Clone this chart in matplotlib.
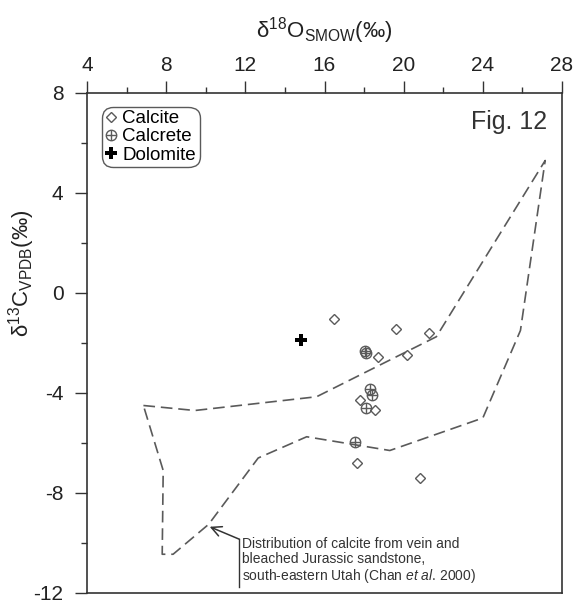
import matplotlib
matplotlib.use("Agg")

import matplotlib.pyplot as plt

# -------------------------------------------------------------
# Data
# -------------------------------------------------------------
calcite_x = [16.5, 19.6, 21.3, 18.7, 20.15, 17.8, 18.55, 17.65, 20.8]
calcite_y = [-1.05, -1.45, -1.6, -2.55, -2.5, -4.3, -4.7, -6.8, -7.4]

calcrete_x = [18.05, 18.1, 18.3, 18.4, 18.1, 17.55]
calcrete_y = [-2.33, -2.4, -3.85, -4.1, -4.6, -5.95]

dolomite_x = [14.8]
dolomite_y = [-1.9]

# envelope of Chan et al. (2000)
chan_x = [6.85, 9.45, 15.6, 21.65, 27.15, 25.9, 24.0, 19.3, 15.1, 12.65, 10.15, 8.35, 7.8, 7.85, 6.85]
chan_y = [-4.5, -4.7, -4.15, -1.75, 5.3, -1.5, -5.0, -6.3, -5.75, -6.6, -9.25, -10.45, -10.45, -7.1, -4.5]

x_ticks = [4, 8, 12, 16, 20, 24, 28]
y_ticks = [-12, -8, -4, 0, 4, 8]

GRAY = "#5a5a5a"
DARK = "#333333"

plt.rcParams["font.family"] = ["Liberation Sans", "DejaVu Sans"]
plt.rcParams["mathtext.fontset"] = "custom"
plt.rcParams["mathtext.rm"] = "Liberation Sans"
plt.rcParams["mathtext.it"] = "Liberation Sans:italic"
plt.rcParams["axes.unicode_minus"] = False

fig = plt.figure(figsize=(5.78, 6.05), dpi=100)
ax = fig.add_axes([87 / 578, 12 / 605, 475 / 578, 500 / 605])

ax.plot(chan_x, chan_y, color=GRAY, lw=1.2, dashes=(7, 3.5))

h_cal, = ax.plot(calcite_x, calcite_y, ls="none", marker="D", ms=5.5,
                 mfc="white", mec=GRAY, mew=1.0)
h_crc1, = ax.plot(calcrete_x, calcrete_y, ls="none", marker="o", ms=7.5,
                  mfc="none", mec=GRAY, mew=1.0)
h_crc2, = ax.plot(calcrete_x, calcrete_y, ls="none", marker="+", ms=7.5,
                  mec=GRAY, mew=1.0)
h_dol, = ax.plot(dolomite_x, dolomite_y, ls="none", marker="P", ms=9,
                 mfc="black", mec="black", mew=0)

leg = ax.legend([h_cal, (h_crc1, h_crc2), h_dol], ["Calcite", "Calcrete", "Dolomite"],
                loc="upper left", bbox_to_anchor=(0.031, 0.973), borderaxespad=0,
                fontsize=13.5, handlelength=0.6, handletextpad=0.3, labelspacing=0.05,
                borderpad=0.2, fancybox=True, framealpha=1, edgecolor=GRAY)
leg.get_frame().set_linewidth(1.0)
leg.get_frame().set_boxstyle("round", pad=0, rounding_size=0.6)

ax.text(27.25, 6.85, "Fig. 12", ha="right", va="center", fontsize=18, color=DARK)

# pointer to the envelope
ax.annotate("", xy=(10.2, -9.35), xytext=(11.7, -9.85),
            arrowprops=dict(arrowstyle="->", color=DARK, lw=1.1,
                            shrinkA=0, shrinkB=0, mutation_scale=18))
ax.plot([11.7, 11.7], [-9.85, -11.75], color=DARK, lw=1.0)
ax.text(11.82, -10.72,
        "Distribution of calcite from vein and\n"
        "bleached Jurassic sandstone,\n"
        "south-eastern Utah (Chan $\\mathit{et\\ al}$. 2000)",
        ha="left", va="center", fontsize=10, color=DARK, linespacing=1.05)

ax.set_xlim(4, 28)
ax.set_ylim(-12, 8)
ax.xaxis.tick_top()
ax.xaxis.set_label_position("top")
ax.set_xticks(x_ticks)
ax.set_xticks(range(6, 28, 4), minor=True)
ax.set_yticks(y_ticks)
ax.set_yticks(range(-10, 8, 4), minor=True)
ax.tick_params(which="major", direction="out", length=9, width=1.0, color=DARK,
               labelsize=15, labelcolor="#222222")
ax.tick_params(axis="y", which="major", pad=8)
ax.tick_params(axis="x", which="major", pad=4)
ax.tick_params(which="minor", direction="out", length=4, width=1.0, color=DARK)
ax.tick_params(axis="x", which="both", bottom=False, top=True)
ax.tick_params(axis="y", which="both", right=False)

for sp in ax.spines.values():
    sp.set_color(DARK)
    sp.set_linewidth(1.2)

ax.set_xlabel("δ$^{18}$O$_{\\mathrm{SMOW}}$(‰)", fontsize=16, labelpad=13, color="#222222")
ax.set_ylabel("δ$^{13}$C$_{\\mathrm{VPDB}}$(‰)", fontsize=16, color="#222222")
ax.yaxis.set_label_coords(-0.105, 0.64)

fig.savefig("out.png", dpi=100)
